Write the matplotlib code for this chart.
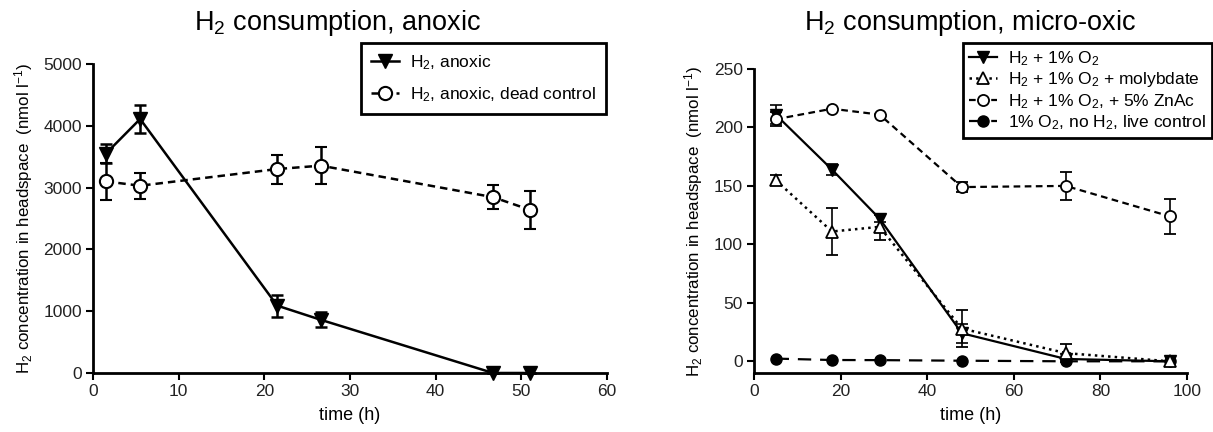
import matplotlib
matplotlib.use("Agg")
import matplotlib.pyplot as plt
import numpy as np

plt.rcParams["font.family"] = ["Liberation Sans", "DejaVu Sans"]
plt.rcParams["mathtext.fontset"] = "custom"
plt.rcParams["mathtext.rm"] = "Liberation Sans"
plt.rcParams["mathtext.it"] = "Liberation Sans:italic"
plt.rcParams["mathtext.default"] = "regular"

# --- anoxic panel ---
t_anoxic = [1.5, 5.5, 21.5, 26.6, 46.7, 51.0]
h2_anoxic = [3550, 4110, 1090, 860, 0, 0]
h2_anoxic_err = [150, 220, 180, 120, 0, 0]
h2_dead = [3100, 3030, 3300, 3355, 2845, 2640]
h2_dead_err = [300, 210, 235, 295, 195, 310]

# --- micro-oxic panel ---
t_oxic = [5, 18, 29, 48, 72, 96]
h2_o2 = [211, 164, 122, 24, 2, 0]
h2_o2_err = [8, 5, 3, 8, 1, 0]
h2_moly = [155, 111, 115, 28, 7, 0]
h2_moly_err = [4, 20, 11, 16, 8, 0]
h2_znac = [207, 216, 211, 149, 150, 124]
h2_znac_err = [6, 0, 0, 4, 12, 15]
live_ctrl = [2.3, 1.1, 1.0, 0.5, 0.0, 0.0]

labels_anoxic = ["H$_2$, anoxic", "H$_2$, anoxic, dead control"]
labels_oxic = ["H$_2$ + 1% O$_2$", "H$_2$ + 1% O$_2$ + molybdate",
               "H$_2$ + 1% O$_2$, + 5% ZnAc", "1% O$_2$, no H$_2$, live control"]

fig = plt.figure(figsize=(12.13, 4.32), dpi=100)
ax1 = fig.add_axes([0.0767, 0.1366, 0.4237, 0.7153])
ax2 = fig.add_axes([0.6216, 0.1366, 0.3570, 0.7037])


def style_axes(ax, xlim, ylim, xticks, yticks):
    ax.set_xlim(xlim)
    ax.set_ylim(ylim)
    ax.set_xticks(xticks)
    ax.set_yticks(yticks)
    for side in ("top", "right"):
        ax.spines[side].set_visible(False)
    for side in ("left", "bottom"):
        ax.spines[side].set_linewidth(2)
    ax.tick_params(direction="out", length=5, width=1.5, labelsize=12.5, pad=3,
                   labelcolor="#222222")
    ax.set_xlabel("time (h)", fontsize=13, labelpad=6)
    ax.set_ylabel("H$_2$ concentration in headspace  (nmol l$^{-1}$)", fontsize=12.2,
                  labelpad=6)


k = dict(color="black", ecolor="black", capsize=4, clip_on=False, zorder=3)
c1 = ax1.errorbar(t_anoxic, h2_anoxic, yerr=h2_anoxic_err, fmt="-v", lw=1.8, ms=9.5,
                  elinewidth=1.8, capthick=1.8, **k)
c2 = ax1.errorbar(t_anoxic, h2_dead, yerr=h2_dead_err, fmt="--o", lw=1.8, ms=9.5,
                  mfc="white", mew=1.5, elinewidth=1.8, capthick=1.8, dashes=(3, 2), **k)
style_axes(ax1, (0, 60), (0, 5000), range(0, 61, 10), range(0, 5001, 1000))

d1 = ax2.errorbar(t_oxic, h2_o2, yerr=h2_o2_err, fmt="-v", lw=1.6, ms=8,
                  elinewidth=1.2, capthick=1.2, **k)
d2 = ax2.errorbar(t_oxic, h2_moly, yerr=h2_moly_err, fmt=":^", lw=1.8, ms=8,
                  mfc="white", mew=1.3, elinewidth=1.2, capthick=1.2, **k)
d3 = ax2.errorbar(t_oxic, h2_znac, yerr=h2_znac_err, fmt="--o", lw=1.6, ms=8,
                  mfc="white", mew=1.3, elinewidth=1.2, capthick=1.2, dashes=(3, 2), **k)
d4, = ax2.plot(t_oxic, live_ctrl, "--o", color="black", lw=1.6, ms=8, dashes=(6, 4),
               clip_on=False, zorder=3)
style_axes(ax2, (0, 100), (-10, 250), range(0, 101, 20), range(0, 251, 50))

legends = (
    (ax1, [c1[0], c2[0]], labels_anoxic, (0.4996, 0.9005), 0.75, 0.6),
    (ax2, [d1[0], d2[0], d3[0], d4], labels_oxic, (0.999, 0.9005), 0.15, 0.35),
)
for ax, handles, labels, anchor, spacing, pad in legends:
    leg = ax.legend(handles=handles, labels=labels,
                    loc="upper right", bbox_to_anchor=anchor,
                    bbox_transform=fig.transFigure, fontsize=12.5, frameon=True,
                    fancybox=False, handlelength=1.6, handletextpad=0.6,
                    borderpad=pad, labelspacing=spacing, borderaxespad=0)
    leg.get_frame().set_edgecolor("black")
    leg.get_frame().set_linewidth(2)
    leg.get_frame().set_alpha(1)

fig.text(0.278, 0.947, "H$_2$ consumption, anoxic", ha="center", va="center",
         fontsize=19.5)
fig.text(0.800, 0.947, "H$_2$ consumption, micro-oxic", ha="center", va="center",
         fontsize=19.5)

fig.savefig("out.png", dpi=100)
